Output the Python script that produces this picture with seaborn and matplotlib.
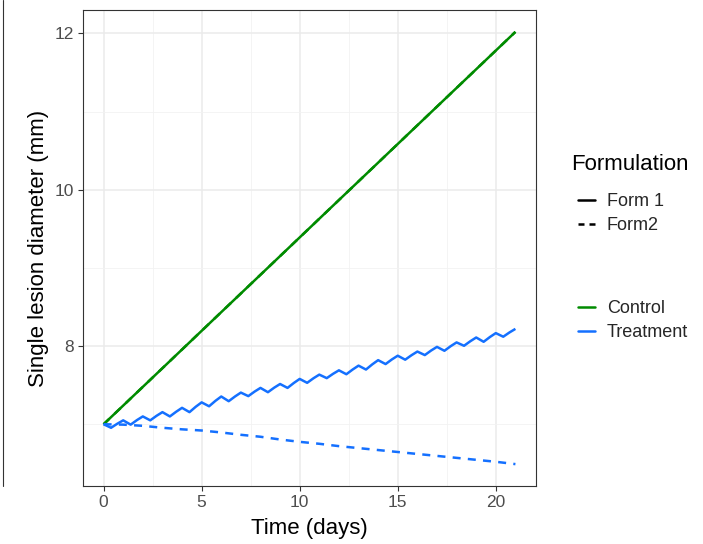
import matplotlib
matplotlib.use("Agg")
import matplotlib.pyplot as plt
from matplotlib.lines import Line2D
import pandas as pd
import seaborn as sns

# ---- data -------------------------------------------------------------
# Control: straight growth, identical for both formulations
control_days = [0, 21]
control_mm = [7.00, 12.02]

# Treatment, Form 1: daily dosing -> peak at each dose, dip ~0.38 d later,
# then regrowth until the next dose
treat1_days = [0.00, 0.38, 0.70, 1.00, 1.38, 1.70, 2.00, 2.38, 2.70, 3.00,
               3.38, 3.70, 4.00, 4.38, 4.70, 5.00, 5.38, 5.70, 6.00, 6.38,
               6.70, 7.00, 7.38, 7.70, 8.00, 8.38, 8.70, 9.00, 9.38, 9.70,
               10.00, 10.38, 10.70, 11.00, 11.38, 11.70, 12.00, 12.38, 12.70, 13.00,
               13.38, 13.70, 14.00, 14.38, 14.70, 15.00, 15.38, 15.70, 16.00, 16.38,
               16.70, 17.00, 17.38, 17.70, 18.00, 18.38, 18.70, 19.00, 19.38, 19.70,
               20.00, 20.38, 20.70, 21.00]
treat1_mm = [7.000, 6.955, 7.007, 7.050, 6.995, 7.053, 7.100, 7.050, 7.108, 7.155,
             7.100, 7.160, 7.210, 7.155, 7.224, 7.280, 7.230, 7.299, 7.355, 7.295,
             7.355, 7.405, 7.360, 7.418, 7.465, 7.410, 7.468, 7.515, 7.465, 7.528,
             7.580, 7.530, 7.588, 7.635, 7.590, 7.645, 7.690, 7.640, 7.700, 7.750,
             7.700, 7.766, 7.820, 7.770, 7.829, 7.877, 7.826, 7.883, 7.930, 7.885,
             7.943, 7.990, 7.940, 7.999, 8.047, 8.004, 8.062, 8.110, 8.055, 8.116,
             8.166, 8.120, 8.175, 8.220]

# Treatment, Form 2: slow steady decline
treat2_days = list(range(22))
treat2_mm = [7.000, 6.995, 6.980, 6.955, 6.935, 6.920, 6.895, 6.865, 6.840, 6.805,
             6.775, 6.750, 6.720, 6.695, 6.670, 6.645, 6.620, 6.595, 6.570, 6.545,
             6.520, 6.490]

groups = ["Control", "Treatment"]
forms = ["Form 1", "Form2"]
x_ticks = [0, 5, 10, 15, 20]
y_ticks = [8, 10, 12]

GREEN = "#008B00"
BLUE = "#1470FF"

frames = []
for form in forms:
    frames.append(pd.DataFrame({"time": control_days, "diam": control_mm,
                                "group": "Control", "form": form}))
frames.append(pd.DataFrame({"time": treat1_days, "diam": treat1_mm,
                            "group": "Treatment", "form": "Form 1"}))
frames.append(pd.DataFrame({"time": treat2_days, "diam": treat2_mm,
                            "group": "Treatment", "form": "Form2"}))
df = pd.concat(frames, ignore_index=True)

# ---- figure -----------------------------------------------------------
sns.set_theme(style="white")
plt.rcParams["font.family"] = ["Liberation Sans", "DejaVu Sans"]

fig = plt.figure(figsize=(7.03, 5.44), dpi=100)
ax = fig.add_axes([83 / 703, 1 - 486 / 544, (536 - 83) / 703, (486 - 10) / 544])

LW = 1.8
DASH = (3.2, 2.9)
sns.lineplot(data=df, x="time", y="diam", hue="group", style="form",
             hue_order=groups, style_order=forms,
             palette={"Control": GREEN, "Treatment": BLUE},
             dashes={"Form 1": "", "Form2": DASH},
             estimator=None, sort=False, linewidth=LW, legend=False, ax=ax,
             zorder=3)
for ln in ax.get_lines():
    ln.set_solid_capstyle("butt")
    ln.set_solid_joinstyle("round")
    ln.set_dash_capstyle("butt")

ax.set_xlim(-1.05, 22.05)
ax.set_ylim(6.21, 12.30)
ax.set_xticks(x_ticks)
ax.set_yticks(y_ticks)
ax.set_xticks([2.5, 7.5, 12.5, 17.5], minor=True)
ax.set_yticks([7, 9, 11], minor=True)
ax.grid(which="major", color="#EBEBEB", linewidth=1.1, zorder=0)
ax.grid(which="minor", color="#F2F2F2", linewidth=0.6, zorder=0)
ax.set_axisbelow(True)

for sp in ax.spines.values():
    sp.set_visible(True)
    sp.set_color("#333333")
    sp.set_linewidth(0.8)

ax.tick_params(which="major", direction="out", length=3.5, width=0.8,
               color="#333333", labelsize=12.5, labelcolor="#4D4D4D", pad=3,
               bottom=True, left=True)
ax.tick_params(which="minor", length=0)

ax.set_xlabel("Time (days)", fontsize=16, color="black", labelpad=6)
ax.set_ylabel("Single lesion diameter (mm)", fontsize=16, color="black", labelpad=4)

# ---- legends ----------------------------------------------------------
form_handles = [Line2D([], [], color="black", lw=LW, linestyle="-"),
                Line2D([], [], color="black", lw=LW, linestyle=(0, (2.4, 2.0)))]
group_handles = [Line2D([], [], color=GREEN, lw=LW),
                 Line2D([], [], color=BLUE, lw=LW)]

fig.text(571 / 703, 1 - 165 / 544, "Formulation", fontsize=16,
         ha="left", va="center", color="black")

legend_kw = dict(loc="upper left", frameon=False, fontsize=13,
                 handlelength=0.95, handletextpad=0.65, labelspacing=0.38,
                 borderaxespad=0, borderpad=0)
fig.legend(form_handles, forms,
           bbox_to_anchor=(578 / 703, 1 - 193 / 544), **legend_kw)
fig.legend(group_handles, groups,
           bbox_to_anchor=(578 / 703, 1 - 300 / 544), **legend_kw)

# edge of the neighbouring panel at the far left
fig.add_artist(Line2D([2.5 / 703, 2.5 / 703], [1.0, 1 - 486 / 544],
                      transform=fig.transFigure, color="#333333", lw=0.8))

fig.savefig("out.png", dpi=100)
